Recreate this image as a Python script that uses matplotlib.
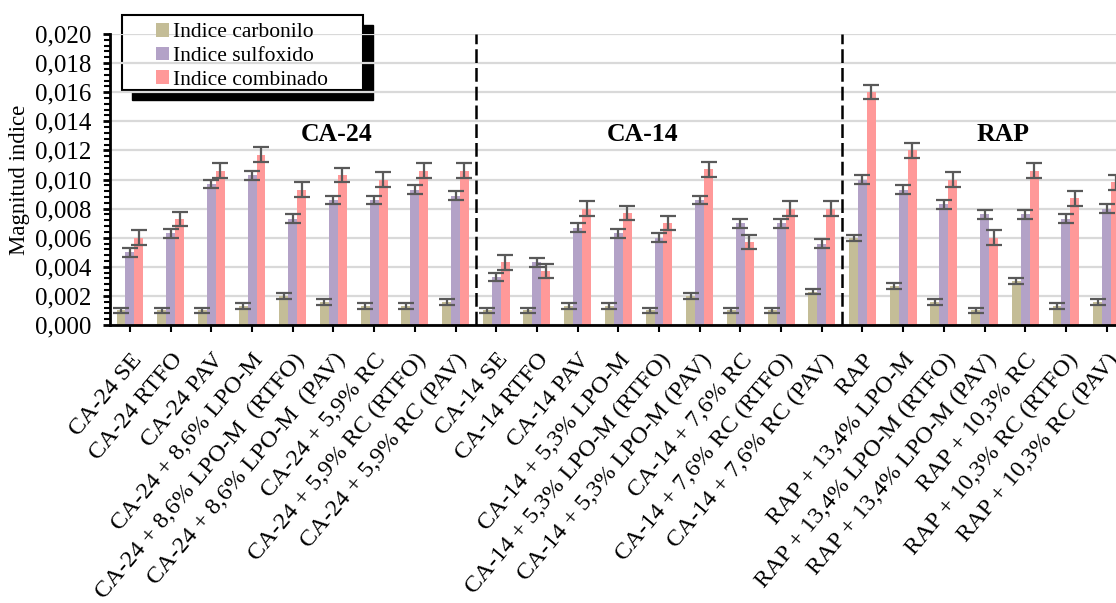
import matplotlib
matplotlib.use("Agg")
import matplotlib.pyplot as plt
import numpy as np
from matplotlib.patches import Rectangle
from matplotlib.ticker import MultipleLocator, FuncFormatter

plt.rcParams['font.family'] = ['Liberation Serif', 'DejaVu Serif']

categories = [
    "CA-24 SE", "CA-24 RTFO", "CA-24 PAV", "CA-24 + 8,6% LPO-M",
    "CA-24 + 8,6% LPO-M  (RTFO)", "CA-24 + 8,6% LPO-M  (PAV)", "CA-24 + 5,9% RC",
    "CA-24 + 5,9% RC (RTFO)", "CA-24 + 5,9% RC (PAV)",
    "CA-14 SE", "CA-14 RTFO", "CA-14 PAV", "CA-14 + 5,3% LPO-M",
    "CA-14 + 5,3% LPO-M (RTFO)", "CA-14 + 5,3% LPO-M (PAV)", "CA-14 + 7,6% RC",
    "CA-14 + 7,6% RC (RTFO)", "CA-14 + 7,6% RC (PAV)",
    "RAP", "RAP + 13,4% LPO-M", "RAP + 13,4% LPO-M (RTFO)", "RAP + 13,4% LPO-M (PAV)",
    "RAP + 10,3% RC", "RAP + 10,3% RC (RTFO)", "RAP + 10,3% RC (PAV)",
]

carbonilo = [0.0010, 0.0010, 0.0010, 0.0013, 0.0020, 0.0016, 0.0013, 0.0013, 0.0016,
             0.0010, 0.0010, 0.0013, 0.0013, 0.0010, 0.0020, 0.0010, 0.0010, 0.0023,
             0.0060, 0.0027, 0.0016, 0.0010, 0.0030, 0.0013, 0.0016]
sulfoxido = [0.0050, 0.0063, 0.0097, 0.0103, 0.0073, 0.0086, 0.0086, 0.0093, 0.0089,
             0.0033, 0.0043, 0.0067, 0.0063, 0.0060, 0.0086, 0.0070, 0.0070, 0.0056,
             0.0100, 0.0093, 0.0083, 0.0076, 0.0076, 0.0073, 0.0080]
combinado = [0.0060, 0.0073, 0.0106, 0.0117, 0.0093, 0.0103, 0.0100, 0.0106, 0.0106,
             0.0043, 0.0037, 0.0080, 0.0077, 0.0070, 0.0107, 0.0057, 0.0080, 0.0080,
             0.0160, 0.0120, 0.0100, 0.0060, 0.0106, 0.0087, 0.0098]

err_carbonilo = [0.0002] * 25
err_sulfoxido = [0.0003] * 25
err_combinado = [0.0005] * 25

series_names = ["Indice carbonilo", "Indice sulfoxido", "Indice combinado"]
colors = ["#C4BD97", "#B3A2C7", "#FF9999"]

group_names = ["CA-24", "CA-14", "RAP"]
group_label_x = [5.08, 12.6, 21.45]
group_label_y = 0.0131
separators = [8.5, 17.5]

W, H = 1116, 603
fig = plt.figure(figsize=(W / 100, H / 100), dpi=100)
ax = fig.add_axes([109.6 / W, 1 - 325 / H, (1127 - 109.6) / W, 291 / H])

x = np.arange(len(categories))
width = 0.22
data = [carbonilo, sulfoxido, combinado]
errs = [err_carbonilo, err_sulfoxido, err_combinado]
for i, (vals, e, c, name) in enumerate(zip(data, errs, colors, series_names)):
    ax.bar(x + (i - 1) * width, vals, width, color=c, label=name, zorder=2,
           yerr=e, error_kw=dict(ecolor="#595959", elinewidth=1.6, capsize=6,
                                 capthick=1.6, zorder=3))

for s in separators:
    ax.plot([s, s], [0, 0.020], color="black", lw=1.8, dashes=(5.5, 2), zorder=4)

for name, gx in zip(group_names, group_label_x):
    ax.text(gx, group_label_y, name, ha="center", va="center",
            fontsize=18.5, fontweight="bold")

ax.set_xlim(-0.5, 24.5)
ax.set_ylim(0, 0.020)
ax.yaxis.set_major_locator(MultipleLocator(0.002))
ax.yaxis.set_minor_locator(MultipleLocator(0.0004))
ax.yaxis.set_major_formatter(FuncFormatter(lambda v, p: f"{v:.3f}".replace(".", ",")))
ax.grid(axis="y", color="#D9D9D9", lw=1.6, zorder=0)
ax.set_axisbelow(True)

for sp in ["top", "right"]:
    ax.spines[sp].set_visible(False)
for sp in ["left", "bottom"]:
    ax.spines[sp].set_linewidth(2)

ax.tick_params(axis="y", which="major", length=5, width=2, labelsize=18, pad=8)
ax.tick_params(axis="y", which="minor", length=4, width=1.5)
ax.tick_params(axis="x", length=5, width=1.5, pad=12.5)
ax.set_xticks(x)
ax.set_xticklabels(categories, rotation=50, ha="right", va="top",
                   rotation_mode="anchor", fontsize=17.5)
ax.set_ylabel("Magnitud indice", fontsize=16.5, labelpad=4)

# legend with black drop shadow
ax.legend(loc="upper left", bbox_to_anchor=(156 / W, 1 - 23 / H),
          bbox_transform=fig.transFigure, frameon=False, fontsize=15.5,
          handlelength=0.6, handleheight=0.6, handletextpad=0.2,
          labelspacing=0.2, borderpad=0, borderaxespad=0)
fig.add_artist(Rectangle((132 / W, 1 - 100 / H), 241 / W, 75 / H,
                         transform=fig.transFigure, facecolor="black",
                         edgecolor="black", zorder=1))
fig.add_artist(Rectangle((122 / W, 1 - 90 / H), 241 / W, 75 / H,
                         transform=fig.transFigure, facecolor="white",
                         edgecolor="black", lw=1.5, zorder=1.1))
ax.set_zorder(2)
ax.patch.set_alpha(0)

fig.savefig("out.png", dpi=100)
